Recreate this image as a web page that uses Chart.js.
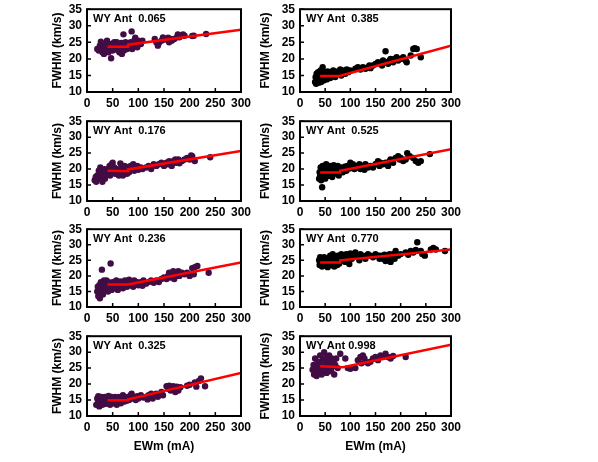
<!DOCTYPE html>
<html>
<head>
<meta charset="utf-8">
<script src="https://cdn.jsdelivr.net/npm/chart.js@4"></script>
<style>
  body { margin: 0; background: #fff; width: 598px; height: 462px; position: relative; overflow: hidden; }
  canvas { position: absolute; }
</style>
</head>
<body>
<script>
// axis ticks
const xTicks = [0, 50, 100, 150, 200, 250, 300];
const yTicks = [10, 15, 20, 25, 30, 35];

// panel labels
const panelLabels = ["WY Ant  0.065", "WY Ant  0.176", "WY Ant  0.236", "WY Ant  0.325",
                     "WY Ant  0.385", "WY Ant  0.525", "WY Ant  0.770", "WY Ant 0.998"];

// EWm (mA), FWHM (km/s) pairs
const ant065 = [[20,23],[23,22.5],[25,24],[27,25.2],[28,23.5],[30,22],[32,23],[33,21.5],[35,23.8],[36,22.5],[38,24.5],[39,25.5],[40,23],[42,22],[44,24],[45,23],[47,20.2],[48,24.5],[50,22.5],[52,23.5],[53,25],[55,24],[57,22.8],[58,25],[60,23.5],[62,24.5],[63,22],[65,23],[67,24.8],[68,21.5],[70,23.5],[71,27.4],[72,22.5],[74,24],[75,25],[78,23],[80,24.5],[82,23.5],[85,25],[87,28.3],[88,23],[90,24],[92,25.5],[94,26.4],[96,24.5],[98,23.5],[100,25.5],[103,25],[105,24.5],[108,25.5],
  [132,26],[135,25],[138,24],[140,24.8],[145,25.5],[148,26.5],[150,25.8],[155,26],[158,26.4],[160,25],[163,26],[165,25.5],[170,26],[175,26.5],[177,27.4],[180,26.5],[185,27],[187,27.4],[190,27],[205,26.9],[208,27],[232,27.5]];
const ant176 = [[15,16.5],[17,17.5],[18,16],[20,18],[22,17],[23,19.5],[25,18.5],[26,20.5],[28,17.5],[30,16],[30,19],[32,18],[34,20],[35,17],[37,19.5],[38,18.5],[40,20],[42,19],[44,21],[45,18],[47,20],[48,21.5],[50,22],[52,19],[53,20.5],[55,18.5],[57,19.5],[60,20],[62,18],[65,21.8],[66,19],[68,20.5],[70,18],[72,21],[74,19.5],[75,20.8],[78,18.5],[80,20],[82,19],[85,21],[88,20],[90,21.5],[92,19.5],[95,20.2],[98,21],[100,19.8],[105,20.5],[108,20],
  [115,20.5],[120,21],[125,20],[130,21.5],[135,21],[140,21.5],[145,22],[150,21],[155,22],[158,21.5],[160,22.5],[165,21],[168,22.5],[170,22],[172,23],[175,22],[178,23],[180,21.8],[185,22.5],[190,23],[195,23.5],[200,23],[203,24.3],[205,24],[210,22.5],[240,23.7]];
const ant236 = [[20,15],[21,16.5],[22,13.5],[23,14.5],[24,17],[25,12.8],[26,16],[27,18],[28,15],[29,22],[30,17.5],[31,14],[32,16.5],[33,18.5],[35,15.5],[36,17],[37,16],[38,18.5],[40,17],[41,15],[42,18],[44,16.5],[46,24],[47,17.5],[48,15.5],[50,18],[52,16.5],[54,17.5],[55,16],[57,18.5],[58,17],[60,15.5],[62,17.5],[64,16.5],[65,18.2],[67,17],[70,16],[72,17.5],[74,18.5],[76,17],[78,16.5],[80,17.8],[82,18.8],[85,17],[88,18],[90,16.5],[92,18.5],[95,17.5],[98,18],[100,17],
  [105,18],[108,16.8],[110,18.5],[115,17.5],[120,18],[125,18.5],[130,17.8],[135,18.5],[140,18],[145,19],
  [150,19.5],[155,19],[158,20],[160,21],[163,19.5],[165,20.5],[168,21.5],[170,19],[172,21],[175,20],[178,21.5],[180,20],[185,21],[190,20.5],[195,21],[200,20],[205,22.5],[208,20.5],[210,22.8],[215,23.2],[237,21]];
const ant325 = [[18,13.5],[20,15.5],[21,14],[22,16.2],[24,13],[25,15],[26,14.5],[28,16],[30,13.5],[31,15.5],[33,14.5],[35,16],[36,13.8],[38,15],[40,14],[42,16.3],[44,15],[45,13.5],[47,14.8],[48,16],[50,15.5],[52,14],[55,16],[57,15],[58,13.5],[60,14.5],[62,16],[64,15],[66,14],[68,15.5],[70,16.5],[72,14.5],[75,15.8],[77,14.8],[80,16],[82,15],[85,16.5],[87,17],[90,15.5],[92,16],[95,15],[98,16.2],[100,15.5],[105,16.5],[110,15.8],[115,16],[118,15.2],[120,16.5],[125,17],[128,15.5],[130,16.2],[135,17],[138,16],[140,16.5],[145,17.5],[148,16.5],
  [155,19.3],[158,18.5],[160,19.5],[163,18],[165,19],[168,19.3],[170,18.5],[172,17.5],[175,19.2],[178,18],[182,19],[195,19.5],[200,19.8],[210,20.5],[213,19.2],[218,21],[222,21.8],[230,19.3]];
const ant385 = [[30,13],[31,14.5],[32,12.5],[33,15.5],[34,13.5],[35,14],[36,16],[37,12.8],[38,15],[39,13.8],[40,14.5],[41,16.5],[42,13],[43,15.5],[44,14],[45,17.5],[46,15],[47,13.5],[48,16],[50,14.8],[52,15.5],[53,13.8],[55,16.2],[57,14.5],[58,15.8],[60,14.2],[62,16],[64,15],[66,16.5],[68,15.2],[70,14.5],[72,15.8],[75,16.2],[78,15.5],[80,16.8],[82,15],[85,16],[88,16.5],[90,15.5],[93,16.8],[96,16],[100,16.5],
  [110,17],[115,17.5],[120,16.8],[125,17.5],[130,17],[135,17.5],[138,18],[140,17.2],[145,18],[150,18.5],[155,19],[160,18.5],[163,18],[165,19.5],[170,22.3],[172,19],[175,18.5],[178,19.5],[180,20],[185,19],[188,20],[192,20.5],[195,19.5],[200,20],[205,20.5],[210,19.5],[212,19],[220,21],[225,23],[228,23.2],[232,23],[240,20.5]];
const ant525 = [[38,17],[39,19],[40,18],[41,20.5],[42,16.5],[43,19.5],[44,14.3],[45,21],[46,17.5],[47,18.8],[48,20],[50,17],[52,21.5],[53,19],[55,17.8],[57,20.5],[58,18.5],[60,21],[62,19.5],[64,17.5],[65,20],[67,21.2],[68,18.5],[70,20],[72,19],[75,21],[77,18],[80,19.8],[82,20.5],[85,19],[88,20],[90,20.8],[92,19.5],[95,21],[98,20.2],[100,22],[102,20.5],[105,21.5],[108,20],[110,21],[115,20.5],[118,21.5],[120,20],[125,21],[128,19.8],[130,21.5],[135,20.5],[140,21],[145,20.5],[150,21.5],[155,22.5],[158,21],[160,22],[165,21.5],[170,22],[175,21],[178,22.5],[180,23],[185,22],[190,23.5],[195,24],[198,23],[200,23.5],[205,22.5],[210,23],[213,25],[218,24],[225,23.5],[230,22.5],[235,22],[240,22.5],[258,24.7]];
const ant770 = [[38,25],[39,23.5],[40,26],[42,24.5],[44,23],[45,25.5],[47,24],[48,26],[50,23.5],[52,25],[54,24.5],[55,22.8],[57,25.5],[58,24],[60,26.5],[62,23.5],[64,25],[65,27],[67,24.5],[68,23],[70,26],[72,25],[74,23.5],[75,26.5],[78,24],[80,25.5],[82,27],[85,25],[88,26.5],[90,24.5],[92,27],[95,26],[98,23.8],[100,27.2],[103,25.5],[105,27],[108,26.5],[110,27.5],[115,26],[118,25],[120,27],[125,26.5],[130,25.5],[135,27],[140,26.5],[145,26],[150,27],[155,26.5],[158,25.5],[160,26.5],[165,25.5],[168,26.8],[170,24.8],[172,26],[175,25.5],[178,27],[180,24.5],[182,26.5],[185,27],[188,25.5],[190,28],[195,26.5],[200,27],[210,27.5],[215,26.8],[220,28],[225,27.5],[230,28.3],[233,30.8],[240,28],[243,27],[248,26.5],[260,28.5],[265,29],[270,28.5],[288,28]];
const ant998 = [[25,24.5],[27,26],[28,23],[30,28],[32,25],[33,22.5],[35,27],[36,24],[38,26.5],[40,29],[42,25.5],[43,23],[45,27.5],[47,24.5],[48,30],[50,26],[52,28.5],[53,23.5],[55,27],[57,25],[58,29],[60,26.5],[62,24],[63,28],[65,25.5],[67,27.5],[68,23],[70,26],[72,28],[75,25],[80,29.5],[90,28],[95,25],[100,24.8],[110,25],[115,27.5],[120,28.5],[122,26.5],[125,29],[128,28],[130,27],[135,26.5],[140,27],[145,28],[150,28.5],[155,27.5],[160,29],[165,28.5],[170,29.5],[175,28.5],[180,28],[185,28.8],[210,28.5]];

// red fit lines
const fit065 = [[40,23.7],[80,23.7],[80,24.3],[300,28.8]];
const fit176 = [[40,19.5],[80,19.3],[80,19.9],[300,25.7]];
const fit236 = [[40,17.2],[80,17.2],[300,24.3]];
const fit325 = [[40,14.9],[80,14.9],[80,15.2],[300,23.5]];
const fit385 = [[40,14.8],[80,14.9],[300,24]];
const fit525 = [[40,18.9],[80,18.9],[80,19.5],[300,26.2]];
const fit770 = [[40,24.3],[80,24.3],[80,25],[300,28.5]];
const fit998 = [[40,25.6],[85,25.3],[300,32.3]];

const PURPLE = "#420d45";
const BLACK = "#000000";

const panels = [
  { pts: ant065, fit: fit065, color: PURPLE, col: 0, row: 0 },
  { pts: ant176, fit: fit176, color: PURPLE, col: 0, row: 1 },
  { pts: ant236, fit: fit236, color: PURPLE, col: 0, row: 2 },
  { pts: ant325, fit: fit325, color: PURPLE, col: 0, row: 3 },
  { pts: ant385, fit: fit385, color: BLACK, col: 1, row: 0 },
  { pts: ant525, fit: fit525, color: BLACK, col: 1, row: 1 },
  { pts: ant770, fit: fit770, color: BLACK, col: 1, row: 2 },
  { pts: ant998, fit: fit998, color: PURPLE, col: 1, row: 3 }
];

// layout of the plot boxes
const colLeft = [87, 300];
const colWidth = [156, 153];
const yAxisWidth = [41, 46];
const rowTop = [5, 117, 225, 332];
const rowHeight = [87, 84, 82, 84];

Chart.defaults.font.family = '"Liberation Sans", Arial, sans-serif';
Chart.defaults.font.size = 12;
Chart.defaults.font.weight = "bold";
Chart.defaults.color = "#000";

const framePlugin = {
  id: "frame",
  afterDraw(chart, args, opts) {
    const { ctx, chartArea: a, scales } = chart;
    ctx.save();
    ctx.strokeStyle = "#000";
    ctx.lineWidth = 1.5;
    // inward tick marks
    ctx.beginPath();
    scales.x.ticks.forEach(t => {
      const px = scales.x.getPixelForValue(t.value);
      ctx.moveTo(px, a.bottom); ctx.lineTo(px, a.bottom - 4);
    });
    scales.y.ticks.forEach(t => {
      const py = scales.y.getPixelForValue(t.value);
      ctx.moveTo(a.left, py); ctx.lineTo(a.left + 4, py);
    });
    ctx.stroke();
    ctx.lineWidth = 2;
    ctx.strokeRect(a.left, a.top, a.right - a.left, a.bottom - a.top);
    ctx.fillStyle = "#000";
    ctx.font = 'bold 11px "Liberation Sans", Arial, sans-serif';
    ctx.textBaseline = "middle";
    ctx.fillText(opts.text, a.left + 6, a.top + 10);
    ctx.restore();
  }
};

panels.forEach((p, i) => {
  const bottomRow = p.row === 3;
  const xh = bottomRow ? 42 : 18;
  const yw = yAxisWidth[p.col];
  const padTop = 8, padRight = 12;
  const W = yw + colWidth[p.col] + padRight;
  const H = padTop + rowHeight[p.row] + xh;
  const cv = document.createElement("canvas");
  cv.width = W; cv.height = H;
  cv.style.left = (colLeft[p.col] - yw) + "px";
  cv.style.top = (rowTop[p.row] - padTop) + "px";
  cv.style.width = W + "px"; cv.style.height = H + "px";
  document.body.appendChild(cv);

  const yTitle = i === 7 ? "FWHMm (km/s)" : "FWHM (km/s)";

  new Chart(cv.getContext("2d"), {
    type: "scatter",
    data: {
      datasets: [
        {
          data: p.fit.map(d => ({ x: d[0], y: d[1] })),
          showLine: true,
          borderColor: "#ff0000",
          borderWidth: 2.5,
          pointRadius: 0,
          tension: 0
        },
        {
          data: p.pts.map(d => ({ x: d[0], y: d[1] })),
          backgroundColor: p.color,
          borderWidth: 0,
          pointRadius: 3.2
        }
      ]
    },
    options: {
      responsive: false,
      animation: false,
      devicePixelRatio: 1,
      layout: { padding: { top: padTop, right: padRight, left: 0, bottom: 0 } },
      plugins: {
        legend: { display: false },
        tooltip: { enabled: false },
        frame: { text: panelLabels[i] }
      },
      scales: {
        x: {
          type: "linear",
          min: xTicks[0], max: xTicks[xTicks.length - 1],
          afterBuildTicks: s => { s.ticks = xTicks.map(v => ({ value: v })); },
          afterFit: s => { s.height = xh; },
          grid: { display: false, drawTicks: false },
          border: { display: false },
          ticks: { padding: 4, maxRotation: 0, autoSkip: false },
          title: { display: bottomRow, text: "EWm (mA)", font: { size: 12, weight: "bold" } }
        },
        y: {
          type: "linear",
          min: yTicks[0], max: yTicks[yTicks.length - 1],
          afterBuildTicks: s => { s.ticks = yTicks.map(v => ({ value: v })); },
          afterFit: s => { s.width = yw; },
          grid: { display: false, drawTicks: false },
          border: { display: false },
          ticks: { padding: 5, autoSkip: false },
          title: { display: true, text: yTitle, font: { size: 12, weight: "bold" } }
        }
      }
    },
    plugins: [framePlugin]
  });
});
</script>
</body>
</html>
